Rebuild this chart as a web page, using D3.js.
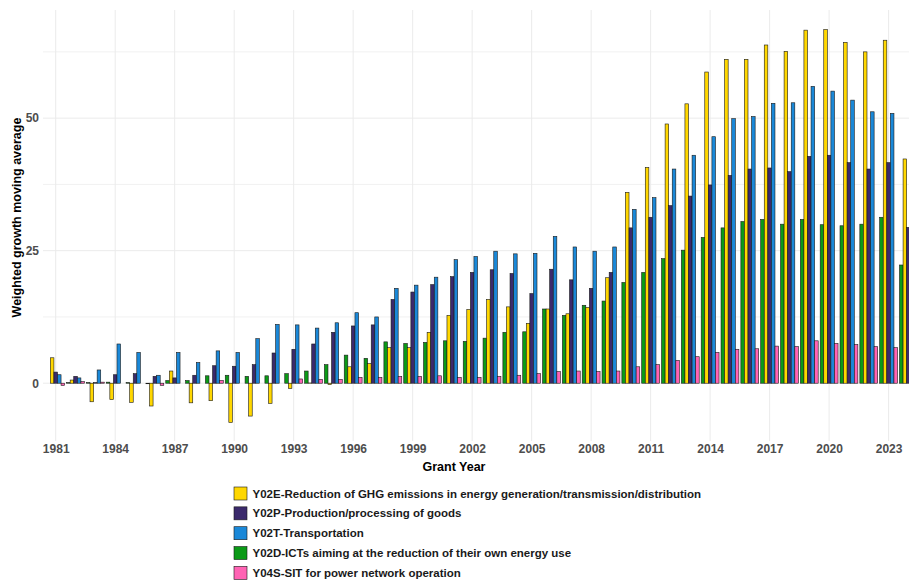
<!DOCTYPE html>
<html>
<head>
<meta charset="utf-8">
<script src="https://cdn.jsdelivr.net/npm/d3@7"></script>
<style>
  body { margin: 0; background: #fff; }
  svg { display: block; font-family: "Liberation Sans", Arial, sans-serif; }
</style>
</head>
<body>
<script>
// grant years
var years = [1981, 1982, 1983, 1984, 1985, 1986, 1987, 1988, 1989, 1990,
  1991, 1992, 1993, 1994, 1995, 1996, 1997, 1998, 1999, 2000,
  2001, 2002, 2003, 2004, 2005, 2006, 2007, 2008, 2009, 2010,
  2011, 2012, 2013, 2014, 2015, 2016, 2017, 2018, 2019, 2020,
  2021, 2022, 2023, 2024];

// weighted growth moving average per tag
var y02d = [0.0, 0.1, 0.1, 0.2, 0.1, -0.1, 0.5, 0.5, 1.4, 1.5,
  1.3, 1.4, 1.8, 2.3, 3.5, 5.3, 4.7, 7.8, 7.5, 7.7,
  8.0, 7.9, 8.5, 9.6, 9.7, 14.0, 12.8, 14.7, 15.5, 19.0,
  20.9, 23.5, 25.1, 27.5, 29.3, 30.5, 30.9, 30.0, 30.9, 29.9,
  29.7, 30.0, 31.3, 22.3];
var y02e = [4.8, 0.6, -3.5, -3.1, -3.6, -4.3, 2.3, -3.7, -3.3, -7.4,
  -6.2, -3.8, -1.0, 0.05, -0.25, 3.1, 3.7, 6.7, 6.7, 9.6,
  12.8, 13.9, 15.8, 14.4, 11.3, 14.0, 13.1, 14.3, 19.9, 36.0,
  40.7, 48.9, 52.7, 58.7, 61.1, 61.1, 63.8, 62.6, 66.6, 66.7,
  64.3, 62.5, 64.7, 42.3];
var y02p = [2.1, 1.3, 0.1, 1.6, 1.8, 1.3, 1.0, 1.5, 3.3, 3.2,
  3.5, 5.7, 6.4, 7.4, 9.6, 10.8, 11.0, 15.8, 17.2, 18.6,
  20.1, 20.9, 21.4, 20.7, 16.9, 21.5, 19.5, 17.9, 20.9, 29.3,
  31.3, 33.5, 35.3, 37.4, 39.2, 40.4, 40.6, 39.9, 42.8, 43.0,
  41.6, 40.4, 41.6, 29.4];
var y02t = [1.6, 1.0, 2.5, 7.4, 5.8, 1.5, 5.8, 3.9, 6.1, 5.8,
  8.4, 11.1, 11.0, 10.4, 11.4, 13.3, 12.5, 17.9, 18.5, 20.0,
  23.3, 23.9, 24.9, 24.4, 24.5, 27.7, 25.7, 24.9, 25.7, 32.8,
  35.0, 40.4, 43.0, 46.5, 49.9, 50.3, 52.8, 52.9, 56.0, 55.1,
  53.4, 51.2, 50.9, 36.0];
var y04s = [-0.4, 0.3, 0.2, 0.0, 0.0, -0.4, 0.0, 0.0, 0.5, 0.0,
  0.0, 0.0, 0.8, 0.7, 0.7, 1.1, 1.1, 1.3, 1.3, 1.4,
  1.1, 1.1, 1.3, 1.5, 1.8, 2.2, 2.3, 2.2, 2.3, 3.1,
  3.5, 4.3, 5.0, 5.8, 6.4, 6.5, 7.0, 6.9, 8.0, 7.5,
  7.3, 6.9, 6.7, 4.6];

// tags in dodge order (alphabetical) and in legend order
var barOrder = ['Y02D', 'Y02E', 'Y02P', 'Y02T', 'Y04S'];
var legendOrder = ['Y02E', 'Y02P', 'Y02T', 'Y02D', 'Y04S'];
var labels = {
  Y02E: 'Y02E-Reduction of GHG emissions in energy generation/transmission/distribution',
  Y02P: 'Y02P-Production/processing of goods',
  Y02T: 'Y02T-Transportation',
  Y02D: 'Y02D-ICTs aiming at the reduction of their own energy use',
  Y04S: 'Y04S-SIT for power network operation'
};
var colors = {
  Y02E: '#ffd700',
  Y02P: '#3b2a6c',
  Y02T: '#1a88d8',
  Y02D: '#0b9a17',
  Y04S: '#ff63b4'
};
var series = {Y02D: y02d, Y02E: y02e, Y02P: y02p, Y02T: y02t, Y04S: y04s};

var xTicks = [1981, 1984, 1987, 1990, 1993, 1996, 1999, 2002, 2005, 2008, 2011, 2014, 2017, 2020, 2023];
var yTicks = [0, 25, 50];
var yMinor = [12.5, 37.5, 62.5];

var width = 909, height = 581;
var panel = {left: 43, right: 909, top: 10, bottom: 441};

var svg = d3.select('body').append('svg')
  .attr('width', width)
  .attr('height', height);

var x = d3.scaleLinear().domain([1981, 2023]).range([55.7, 888.6]);
var y = d3.scaleLinear().domain([-10.9, 70.4]).range([panel.bottom, panel.top]);

var step = x(1982) - x(1981);
var sub = d3.scaleBand().domain(barOrder).range([-step * 0.45, step * 0.45]).padding(0);

// grid
var grid = svg.append('g').attr('stroke', '#ebebeb').attr('fill', 'none');
grid.selectAll('line.h')
  .data(yTicks.concat(yMinor))
  .enter().append('line')
  .attr('x1', panel.left).attr('x2', panel.right)
  .attr('y1', function(d) { return y(d); })
  .attr('y2', function(d) { return y(d); })
  .attr('stroke-width', function(d) { return yTicks.indexOf(d) >= 0 ? 1 : 0.7; });
grid.selectAll('line.v')
  .data(xTicks)
  .enter().append('line')
  .attr('y1', panel.top).attr('y2', panel.bottom)
  .attr('x1', function(d) { return x(d); })
  .attr('x2', function(d) { return x(d); })
  .attr('stroke-width', 1);

// bars
var rows = [];
years.forEach(function(yr, i) {
  barOrder.forEach(function(k) {
    rows.push({year: yr, key: k, value: series[k][i]});
  });
});

svg.append('g')
  .selectAll('rect')
  .data(rows)
  .enter().append('rect')
  .attr('x', function(d) { return x(d.year) + sub(d.key); })
  .attr('width', sub.bandwidth())
  .attr('y', function(d) { return y(Math.max(0, d.value)); })
  .attr('height', function(d) { return Math.abs(y(d.value) - y(0)); })
  .attr('fill', function(d) { return colors[d.key]; })
  .attr('stroke', '#1a1a1a')
  .attr('stroke-width', 0.6);

// axes (text only)
var xAxis = d3.axisBottom(x).tickValues(xTicks).tickFormat(d3.format('d')).tickSize(0).tickPadding(3);
svg.append('g')
  .attr('transform', 'translate(0,' + panel.bottom + ')')
  .call(xAxis)
  .call(function(g) { g.select('.domain').remove(); })
  .selectAll('text')
  .attr('font-size', 12)
  .attr('font-weight', 'bold')
  .attr('fill', '#4d4d4d')
  .attr('font-family', '"Liberation Sans", Arial, sans-serif');

var yAxis = d3.axisLeft(y).tickValues(yTicks).tickSize(0).tickPadding(4);
svg.append('g')
  .attr('transform', 'translate(' + panel.left + ',0)')
  .call(yAxis)
  .call(function(g) { g.select('.domain').remove(); })
  .selectAll('text')
  .attr('font-size', 12)
  .attr('font-weight', 'bold')
  .attr('fill', '#4d4d4d')
  .attr('font-family', '"Liberation Sans", Arial, sans-serif');

// axis titles
svg.append('text')
  .attr('transform', 'translate(17,' + ((panel.top + panel.bottom) / 2 - 8) + ') rotate(-90)')
  .attr('text-anchor', 'middle')
  .attr('dy', '0.35em')
  .attr('font-size', 12.5)
  .attr('font-weight', 'bold')
  .attr('fill', '#000')
  .text('Weighted growth moving average');

svg.append('text')
  .attr('x', 454)
  .attr('y', 471)
  .attr('text-anchor', 'middle')
  .attr('font-size', 12.5)
  .attr('font-weight', 'bold')
  .attr('fill', '#000')
  .text('Grant Year');

// legend
var legend = svg.append('g').attr('transform', 'translate(234, 487)');
var item = legend.selectAll('g')
  .data(legendOrder)
  .enter().append('g')
  .attr('transform', function(d, i) { return 'translate(0,' + i * 19.85 + ')'; });
item.append('rect')
  .attr('width', 13)
  .attr('height', 13)
  .attr('fill', function(d) { return colors[d]; })
  .attr('stroke', '#1a1a1a')
  .attr('stroke-width', 0.6);
item.append('text')
  .attr('x', 18.5)
  .attr('y', 6.5)
  .attr('dy', '0.35em')
  .attr('font-size', 11.5)
  .attr('font-weight', 'bold')
  .attr('fill', '#1a1a1a')
  .text(function(d) { return labels[d]; });
</script>
</body>
</html>
